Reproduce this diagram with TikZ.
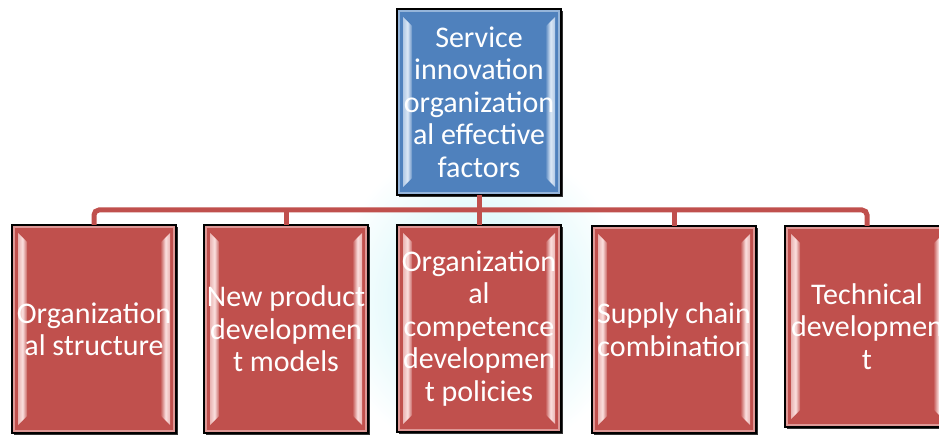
\documentclass[tikz,border=0pt]{standalone}
\usepackage{fontspec}
\setmainfont{Carlito}
\usetikzlibrary{calc,shadows}

\definecolor{boxred}{HTML}{C0504D}
\definecolor{boxblue}{HTML}{4F81BD}
\definecolor{redhi}{HTML}{FBE0DF}
\definecolor{bluehi}{HTML}{DCE8F6}
\definecolor{glow}{HTML}{C4F3F7}

\tikzset{
  % bevel strips drawn inside a card, beneath its text
  bevel/.style 2 args={path picture={
    \coordinate (pa) at (path picture bounding box.north west);
    \coordinate (pb) at (path picture bounding box.north east);
    \coordinate (pc) at (path picture bounding box.south east);
    \coordinate (pd) at (path picture bounding box.south west);
    \draw[#1!50!#2, line width=2.6pt] ($(pa)+(1.8,1.8)$) rectangle ($(pc)+(-1.8,-1.8)$);
    \shade[left color=#1!70!#2, right color=#2!85!#1, middle color=#1]
      ($(pa)+(6,8)$) -- ($(pa)+(15,17)$) -- ($(pd)+(15,-17)$) -- ($(pd)+(6,-8)$) -- cycle;
    \shade[left color=#2!85!#1, right color=#1!70!#2, middle color=#1]
      ($(pb)+(-6,8)$) -- ($(pb)+(-15,17)$) -- ($(pc)+(-15,-17)$) -- ($(pc)+(-6,-8)$) -- cycle;
  }},
  card/.style={rectangle, draw=black, line width=1.2pt, inner sep=0pt, outer sep=0pt,
    text=white, align=center, font=\fontsize{30}{32.5}\selectfont, minimum width=164pt,
    general shadow={fill=black!80, shadow xshift=1.6pt, shadow yshift=-1.6pt}},
  redcard/.style={card, fill=boxred, bevel={redhi}{boxred}},
  bluecard/.style={card, fill=boxblue, bevel={bluehi}{boxblue}},
  conn/.style={draw=boxred, line width=5pt},
}

\begin{document}
\begin{tikzpicture}[x=1pt,y=-1pt]
\useasboundingbox (0,0) rectangle (939,435);
\fill[white] (0,0) rectangle (939,435);
% soft glow behind the central column
\shade[inner color=glow, outer color=white] (330,140) rectangle (630,460);

\node[bluecard, minimum height=186pt] (top) at (479,102)
  {Service\\innovation\\organization\\al effective\\factors};

\node[redcard, minimum height=208pt] (b1) at (94,329) {Organization\\al structure};
\node[redcard, minimum height=208pt] (b2) at (286,329) {New product\\developmen\\t models};
\node[redcard, minimum height=207pt] (b3) at (479,328.5)
  {Organization\\al\\competence\\developmen\\t policies};
\node[redcard, minimum height=207pt] (b4) at (674,329.5) {Supply chain\\combination};
\node[redcard, minimum height=201pt] (b5) at (867,326.5) {Technical\\developmen\\t};

% tree connectors
\path (top.south) ++(0,15) coordinate (bus);
\draw[conn] (top.south) -- (b3.north);
\draw[conn, rounded corners=5pt] (b1.north) |- (bus) -| (b5.north);
\draw[conn] (b2.north) -- (b2.north |- bus);
\draw[conn] (b4.north) -- (b4.north |- bus);
\end{tikzpicture}
\end{document}
